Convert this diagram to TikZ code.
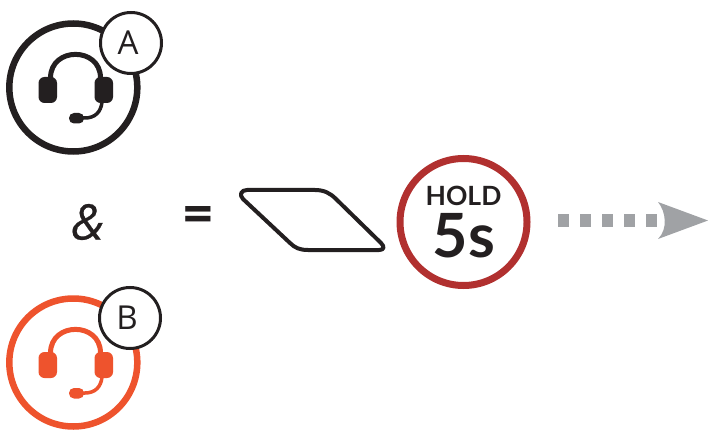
\documentclass[tikz,border=0pt]{standalone}
\usepackage{fontspec}
\setmainfont{Open Sans}
\newfontfamily\holdfont{Lato}[BoldFont=* Bold]
\newfontfamily\ampfont{Open Sans}[ItalicFeatures={FakeBold=0.5}]
\definecolor{ink}{HTML}{231F20}
\definecolor{orangered}{HTML}{EE532D}
\definecolor{holdred}{HTML}{B1302F}
\definecolor{arrowgray}{HTML}{A0A2A5}
\tikzset{
  bigring/.style={draw=#1,line width=6.5pt,fill=white},
  badge/.style={draw=ink,line width=3pt,fill=white},
  label/.style={inner sep=0pt,text=ink},
  dotsq/.style={fill=arrowgray,draw=none},
  pics/headset/.style={code={
    \fill[#1,rounded corners=6pt] (38.5,77) rectangle (57,103);
    \fill[#1,rounded corners=6pt] (94.5,77) rectangle (113,103);
    \draw[#1,line width=5pt] (50.5,78) .. controls (50.5,46.5) and (100.5,46.5) .. (100.5,78);
    \draw[#1,line width=3.5pt] (102,102) .. controls (101,112) and (95,118) .. (85,118) -- (80,118);
    \fill[#1,rounded corners=5pt] (69,113) rectangle (84,123.5);
  }}
}
\begin{document}
\begin{tikzpicture}[x=1pt,y=-1pt]
\useasboundingbox (0,0) rectangle (708,430);
% A
\draw[bigring=ink] (73.3,87.5) circle[radius=64];
\pic {headset=ink};
\draw[badge] (131,43) circle[radius=30.5];
\node[label,font=\fontsize{33}{33}\selectfont] (labA) at (128,43) {A};
% B
\draw[bigring=orangered] (73.3,362.5) circle[radius=64];
\begin{scope}[yshift=-275pt]
\pic {headset=orangered};
\end{scope}
\draw[badge] (130,318) circle[radius=30.5];
\node[label,font=\fontsize{33}{33}\selectfont] (labB) at (127,318) {B};
% symbols
\node[label,font=\fontsize{49}{49}\ampfont\itshape] (amp) at (87.5,222) {\&};
\node[label,font=\fontsize{52}{52}\bfseries] (eq) at (198.5,219.5) {=};
% button
\draw[ink,line width=4pt,line join=round]
  (247,190) -- (315,190) .. controls (324,190) and (330,193) .. (336,199)
  -- (381,243) .. controls (385,247) and (384,250) .. (379,250)
  -- (308,250) .. controls (300,250) and (295,248) .. (290,243)
  -- (243,199) .. controls (239,195) and (241,190) .. (247,190) -- cycle;
% hold
\draw[draw=holdred,line width=7pt] (463.5,222) circle[radius=63.5];
\node[label,font=\fontsize{26.5}{26.5}\holdfont\bfseries] (hold) at (463.5,196) {HOLD};
\node[label,font=\fontsize{61}{61}\holdfont\bfseries] (five) at (464,235.5) {5s};
% arrow
\foreach \x in {558,580,602,624,646}
  \fill[dotsq] (\x,214) rectangle +(11,13);
\fill[arrowgray] (708,220.5) -- (658,202) .. controls (666,212) and (668,229) .. (658,239) -- cycle;
\end{tikzpicture}
\end{document}
